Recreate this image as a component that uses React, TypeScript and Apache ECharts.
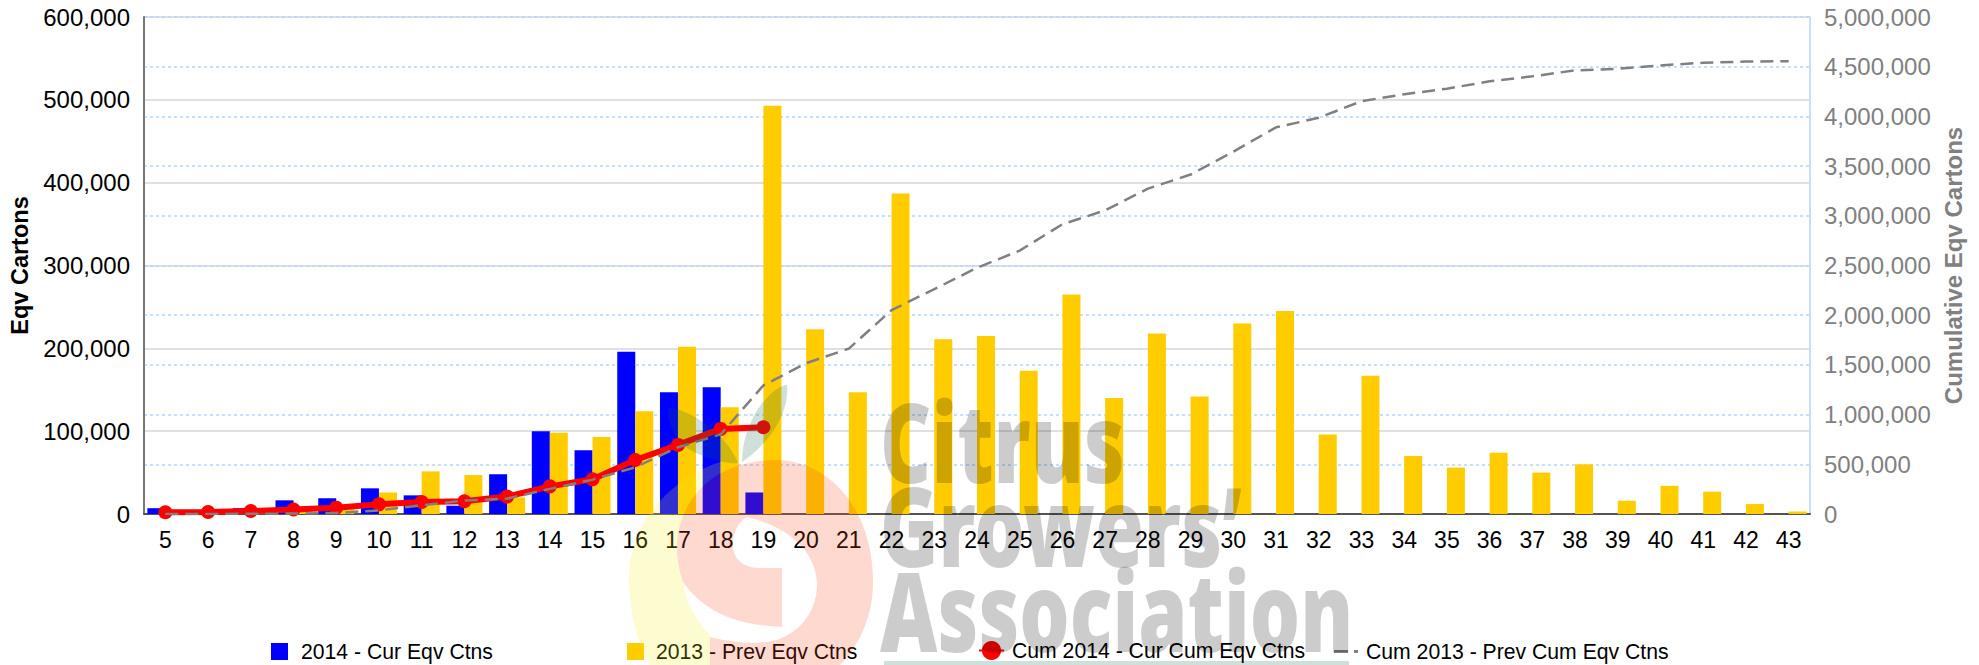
import React, { useEffect, useRef } from "react";
import * as echarts from "echarts";

const weeks = ["5","6","7","8","9","10","11","12","13","14","15","16","17","18","19","20","21","22","23","24","25","26","27","28","29","30","31","32","33","34","35","36","37","38","39","40","41","42","43"];
const cur2014 = [7000,2500,7000,16500,19000,31000,22500,10000,48000,100000,77000,196000,147000,153000,26000];
const prev2013 = [500,500,500,3000,6000,26000,51500,47000,20000,98000,93000,124000,202000,129000,493000,223000,147000,387000,211000,215000,173000,265000,140000,218000,142000,230000,245000,96000,167000,70000,56000,74000,50000,60000,16000,34000,27000,12000,3000];
const cum2014 = [17000,20000,30000,45000,64000,97000,121000,128000,175000,278000,349000,543000,695000,856000,873000];
const cum2013 = [500,1000,1500,4500,10500,36500,88000,135000,155000,253000,346000,470000,672000,801000,1294000,1517000,1664000,2051000,2262000,2477000,2650000,2915000,3055000,3273000,3415000,3645000,3890000,3986000,4153000,4223000,4279000,4353000,4403000,4463000,4479000,4513000,4540000,4552000,4555000];

const N1 = "2014 - Cur Eqv Ctns";
const N2 = "2013 - Prev Eqv Ctns";
const N3 = "Cum 2014 - Cur Cum Eqv Ctns";
const N4 = "Cum 2013 - Prev Cum Eqv Ctns";

const FONT = '"Liberation Sans", Arial, sans-serif';

const d = {
  yellow: "M721 462 C690 470 629 510 629 578 C629 610 636 640 650 665 L710 665 L710 635 C695 620 685 600 683 582 C679 570 677 560 677 548 C677 517 693 489 721 473 Z",
  red: "M683 582 C679 570 677 560 677 548 C677 500 715 460 775 460 C830 460 873 510 873 582 C873 615 860 645 840 665 L710 665 L710 637 C730 642 750 644 767 642 C795 638 817 615 817 585 C817 560 800 530 747 517 C733 525 730 545 735 555 C740 565 750 568 760 568 L782 568 L782 627 C750 625 710 620 683 582 Z",
  leafL: "M669 408 C685 408 725 430 738 463 C725 465 695 455 683 445 C675 435 665 420 669 408 Z",
  leafR: "M785 385 C765 392 742 425 742 462 C760 450 790 420 787 385 Z",
};
echarts.graphic.registerShape("wmY", echarts.graphic.extendPath(d.yellow, {}) as any);
echarts.graphic.registerShape("wmR", echarts.graphic.extendPath(d.red, {}) as any);
echarts.graphic.registerShape("wmL", echarts.graphic.extendPath(d.leafL, {}) as any);
echarts.graphic.registerShape("wmG", echarts.graphic.extendPath(d.leafR, {}) as any);

const wmText = (text: string, x: number, y: number, sx: number, sy: number) => ({
  type: "text", x, y, scaleX: sx, scaleY: sy, z: 100, silent: true,
  style: { text, font: '900 110px "Noto Sans"', fill: "rgba(0,0,0,0.2)" },
});

export default function App() {
  const ref = useRef<HTMLDivElement>(null);
  useEffect(() => {
    document.body.style.margin = "0";
    const chart = echarts.init(ref.current!, null, { renderer: "svg" });
    const lbl = { fontFamily: FONT, color: "#000", fontSize: 21.2 };
    chart.setOption({
      animation: false,
      backgroundColor: "#fff",
      grid: { left: 144, right: 169, top: 17, bottom: 151, outerBoundsMode: "none" },
      legend: [
        { data: [{ name: N1, icon: "rect" }], left: 271, top: 641, padding: 0, itemWidth: 17, itemHeight: 17, textStyle: { ...lbl, padding: [0, 0, 0, 8] } },
        { data: [{ name: N2, icon: "rect" }], left: 627, top: 641, padding: 0, itemWidth: 17, itemHeight: 17, textStyle: { ...lbl, padding: [0, 0, 0, 7] } },
        { data: [N3], left: 978, top: 640, padding: 0, itemWidth: 25, itemHeight: 24, textStyle: { ...lbl, padding: [0, 0, 0, 3] } },
        { data: [{ name: N4, icon: "path://M0 0H14V3H0Z M20 0H24V3H20Z" }], left: 1334, top: 641, padding: 0, itemWidth: 24, itemHeight: 3, itemStyle: { color: "#808080" }, textStyle: { ...lbl, padding: [0, 0, 0, 3] } },
      ],
      xAxis: {
        type: "category", data: weeks,
        axisLine: { lineStyle: { color: "#555", width: 2 } },
        axisTick: { show: false },
        axisLabel: { interval: 0, fontFamily: FONT, fontSize: 23, color: "#000", margin: 14 },
      },
      yAxis: [
        {
          type: "value", min: 0, max: 600000, interval: 100000, name: "Eqv Cartons", nameLocation: "middle", nameGap: 112,
          nameTextStyle: { fontFamily: FONT, fontWeight: "bold", fontSize: 23.5, color: "#000" },
          axisLine: { show: true, lineStyle: { color: "#777", width: 2 } },
          axisTick: { show: false },
          axisLabel: { fontFamily: FONT, fontSize: 24, color: "#000", margin: 14, padding: [4, 0, 0, 0], formatter: (v: number) => v.toLocaleString("en-US") },
          splitLine: { show: true, lineStyle: { color: "#e0e0e0", width: 2 } },
        },
        {
          type: "value", min: 0, max: 5000000, interval: 500000, position: "right", name: "Cumulative Eqv Cartons", nameLocation: "middle", nameGap: 128,
          nameTextStyle: { fontFamily: FONT, fontWeight: "bold", fontSize: 24, color: "#808080" },
          axisLine: { show: true, lineStyle: { color: "#c4e0ff", width: 2 } },
          axisTick: { show: false },
          axisLabel: { fontFamily: FONT, fontSize: 24, color: "#808080", margin: 14, padding: [2, 0, 0, 0], formatter: (v: number) => v.toLocaleString("en-US") },
          splitLine: { show: true, lineStyle: { color: "#b0d8ff", width: 1.5, type: [3, 3] } },
        },
      ],
      series: [
        { name: N1, type: "bar", data: cur2014, barWidth: 18, barGap: 0, itemStyle: { color: "#0000ff" } },
        { name: N2, type: "bar", data: prev2013, barWidth: 18, barGap: 0, itemStyle: { color: "#ffcc00" } },
        { name: N3, type: "line", yAxisIndex: 1, data: cum2014, symbol: "circle", symbolSize: 14, showSymbol: true, z: 5,
          lineStyle: { color: "#ff0000", width: 6 }, itemStyle: { color: "#ff0000" } },
        { name: N4, type: "line", yAxisIndex: 1, data: cum2013, symbol: "none", z: 6,
          lineStyle: { color: "#808080", width: 2.5, type: [13, 7] }, itemStyle: { color: "#808080" } },
      ],
      graphic: [
        { type: "wmY", x: 0, y: 0, z: 100, silent: true, style: { fill: "#f5eb14", opacity: 0.2 } },
        { type: "wmR", x: 0, y: 0, z: 100, silent: true, style: { fill: "#f54114", opacity: 0.2 } },
        { type: "wmL", x: 0, y: 0, z: 100, silent: true, style: { fill: "#0f6446", opacity: 0.2 } },
        { type: "wmG", x: 0, y: 0, z: 100, silent: true, style: { fill: "#0f6446", opacity: 0.2 } },
        wmText("Citrus", 880, 386, 0.72, 1),
        wmText("Growers\u2019", 880, 470, 0.72, 1),
        wmText("Association", 880, 555, 0.72, 1),
        { type: "rect", z: 100, silent: true, shape: { x: 884, y: 661, width: 465, height: 4 }, style: { fill: "#0f6446", opacity: 0.2 } },
      ],
    });
    return () => chart.dispose();
  }, []);
  return <div ref={ref} style={{ width: 1979, height: 665 }} />;
}
